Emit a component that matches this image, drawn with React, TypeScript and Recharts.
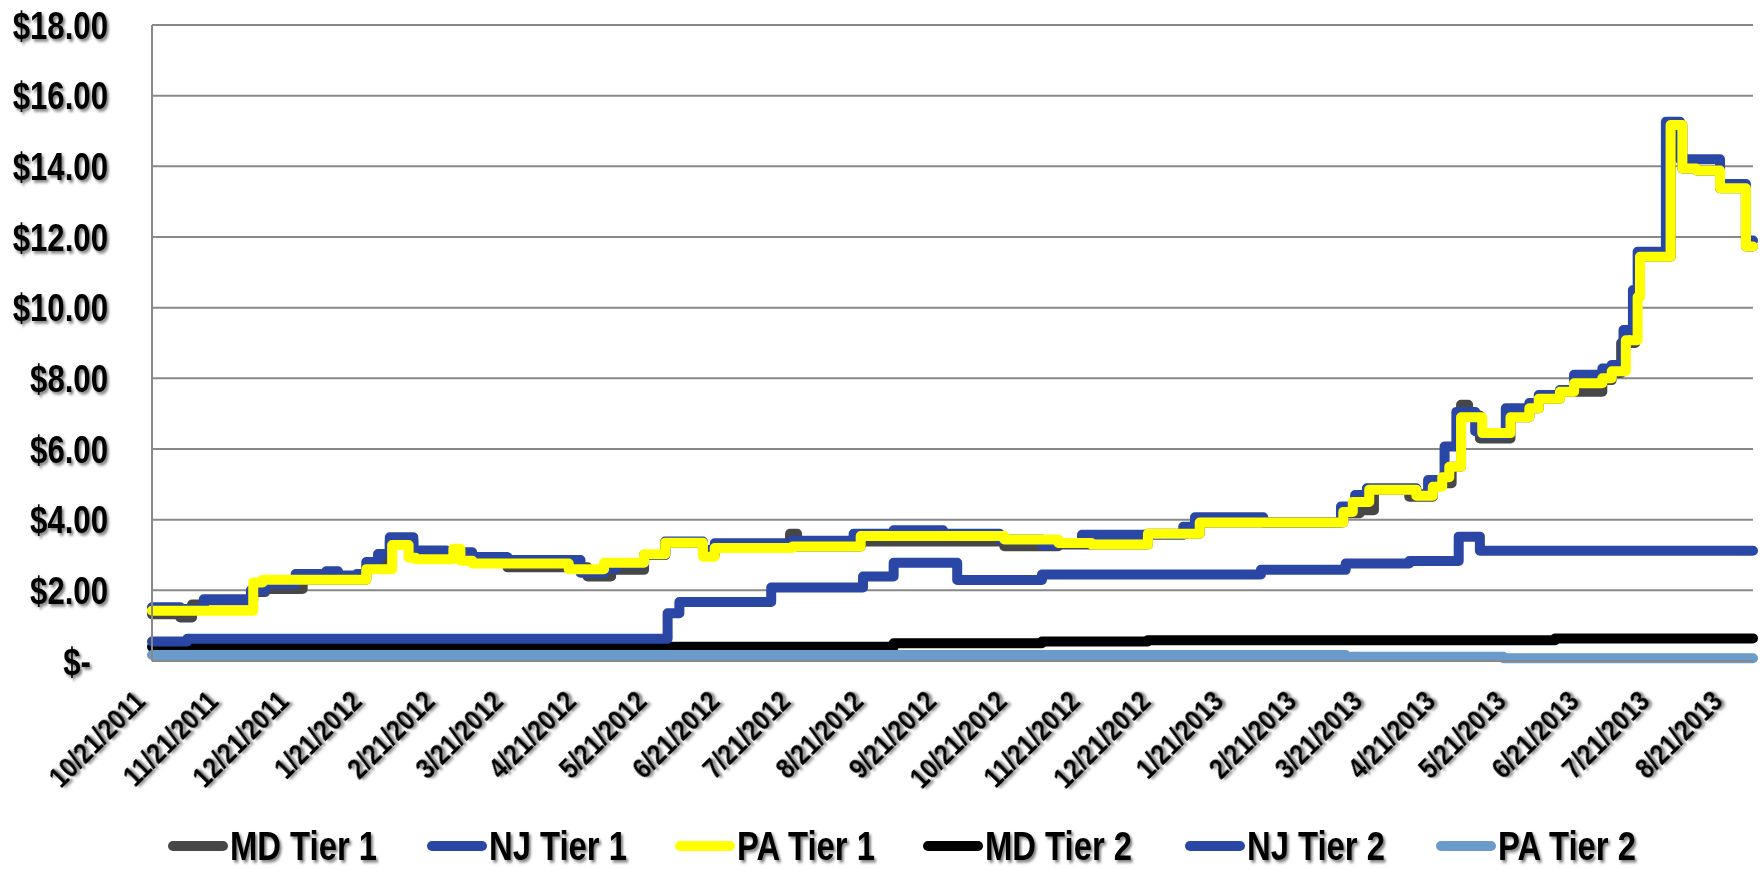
import { LineChart, Line, XAxis, YAxis, CartesianGrid, Legend } from "recharts";

// x axis labels (one per month)
const tickLabels = [
  "10/21/2011", "11/21/2011", "12/21/2011", "1/21/2012", "2/21/2012", "3/21/2012",
  "4/21/2012", "5/21/2012", "6/21/2012", "7/21/2012", "8/21/2012", "9/21/2012",
  "10/21/2012", "11/21/2012", "12/21/2012", "1/21/2013", "2/21/2013", "3/21/2013",
  "4/21/2013", "5/21/2013", "6/21/2013", "7/21/2013", "8/21/2013",
];
const yTicks = [0, 2, 4, 6, 8, 10, 12, 14, 16, 18];
const firstDate = "10/21/2011";
const lastDate = "8/31/2013";

// price change points: [date, $], each value holds until the next date
const mdTier1: [string, number][] = [
  ["10/21/2011", 1.32], ["11/2/2011", 1.23], ["11/7/2011", 1.6], ["11/12/2011", 1.72],
  ["12/3/2011", 1.95], ["12/8/2011", 2.04], ["12/24/2011", 2.3], ["1/20/2012", 2.62],
  ["1/25/2012", 2.84], ["1/30/2012", 3.4], ["2/9/2012", 3.03], ["3/5/2012", 2.84],
  ["3/20/2012", 2.65], ["4/23/2012", 2.39], ["5/3/2012", 2.58], ["5/17/2012", 3.0],
  ["5/26/2012", 3.35], ["6/11/2012", 3.0], ["6/16/2012", 3.2], ["7/18/2012", 3.6],
  ["7/21/2012", 3.24], ["8/17/2012", 3.38], ["10/17/2012", 3.25], ["11/9/2012", 3.3],
  ["12/17/2012", 3.6], ["1/8/2013", 3.92], ["3/10/2013", 4.18], ["3/17/2013", 4.27],
  ["3/23/2013", 4.85], ["4/7/2013", 4.65], ["4/17/2013", 5.03], ["4/25/2013", 5.5],
  ["4/29/2013", 7.25], ["5/2/2013", 6.95], ["5/7/2013", 6.3], ["5/20/2013", 6.9],
  ["5/28/2013", 7.15], ["6/1/2013", 7.42], ["6/10/2013", 7.62], ["6/28/2013", 7.95],
  ["7/2/2013", 8.15], ["7/6/2013", 9.0], ["7/12/2013", 10.4], ["7/14/2013", 11.44],
  ["7/27/2013", 15.17], ["8/1/2013", 13.94], ["8/7/2013", 13.88], ["8/17/2013", 13.38],
  ["8/28/2013", 11.73], ["8/31/2013", 11.73],
];

const njTier1: [string, number][] = [
  ["10/21/2011", 1.52], ["11/2/2011", 1.47], ["11/12/2011", 1.75], ["12/2/2011", 2.0],
  ["12/8/2011", 2.18], ["12/21/2011", 2.46], ["1/3/2012", 2.54], ["1/8/2012", 2.42],
  ["1/16/2012", 2.46], ["1/20/2012", 2.8], ["1/25/2012", 3.03], ["1/30/2012", 3.5],
  ["2/9/2012", 3.13], ["2/23/2012", 3.08], ["3/5/2012", 2.94], ["3/20/2012", 2.86],
  ["4/20/2012", 2.5], ["4/30/2012", 2.62], ["5/5/2012", 2.75], ["5/17/2012", 3.0],
  ["5/26/2012", 3.38], ["6/11/2012", 3.14], ["6/16/2012", 3.33], ["7/19/2012", 3.4],
  ["8/14/2012", 3.6], ["8/31/2012", 3.7], ["9/21/2012", 3.6], ["10/15/2012", 3.44],
  ["11/2/2012", 3.28], ["11/8/2012", 3.33], ["11/19/2012", 3.57], ["1/1/2013", 3.8],
  ["1/6/2013", 4.07], ["2/4/2013", 3.92], ["3/9/2013", 4.37], ["3/15/2013", 4.7],
  ["3/20/2013", 4.89], ["4/10/2013", 4.72], ["4/15/2013", 5.12], ["4/22/2013", 6.07],
  ["4/27/2013", 7.05], ["5/5/2013", 6.5], ["5/8/2013", 6.4], ["5/18/2013", 7.15],
  ["5/28/2013", 7.3], ["6/1/2013", 7.53], ["6/10/2013", 7.67], ["6/16/2013", 8.1],
  ["6/28/2013", 8.28], ["7/2/2013", 8.38], ["7/7/2013", 9.37], ["7/11/2013", 10.5],
  ["7/13/2013", 11.58], ["7/25/2013", 15.26], ["7/31/2013", 14.2], ["8/17/2013", 13.5],
  ["8/28/2013", 11.9], ["8/31/2013", 11.9],
];

const paTier1: [string, number][] = [
  ["10/21/2011", 1.42], ["12/3/2011", 2.22], ["12/7/2011", 2.3], ["1/20/2012", 2.6],
  ["1/31/2012", 3.28], ["2/7/2012", 2.92], ["2/10/2012", 2.88], ["2/26/2012", 3.18],
  ["2/29/2012", 2.84], ["3/5/2012", 2.76], ["4/15/2012", 2.6], ["4/30/2012", 2.78],
  ["5/17/2012", 3.02], ["5/26/2012", 3.35], ["6/11/2012", 2.95], ["6/16/2012", 3.2],
  ["7/19/2012", 3.24], ["8/17/2012", 3.54], ["10/17/2012", 3.44], ["11/9/2012", 3.34],
  ["11/23/2012", 3.3], ["12/17/2012", 3.6], ["1/8/2013", 3.92], ["3/10/2013", 4.22],
  ["3/14/2013", 4.5], ["3/21/2013", 4.85], ["4/10/2013", 4.68], ["4/17/2013", 4.93],
  ["4/21/2013", 5.2], ["4/24/2013", 5.5], ["4/29/2013", 6.9], ["5/8/2013", 6.45],
  ["5/20/2013", 6.9], ["5/28/2013", 7.15], ["6/1/2013", 7.42], ["6/10/2013", 7.62],
  ["6/16/2013", 7.86], ["6/28/2013", 8.0], ["7/2/2013", 8.2], ["7/8/2013", 9.08],
  ["7/13/2013", 10.3], ["7/14/2013", 11.44], ["7/27/2013", 15.17], ["8/1/2013", 13.94],
  ["8/7/2013", 13.88], ["8/17/2013", 13.38], ["8/28/2013", 11.73], ["8/31/2013", 11.73],
];

const mdTier2: [string, number][] = [
  ["10/21/2011", 0.4], ["8/31/2012", 0.5], ["11/2/2012", 0.55], ["12/17/2012", 0.59],
  ["6/8/2013", 0.64], ["8/31/2013", 0.64],
];

const njTier2: [string, number][] = [
  ["10/21/2011", 0.55], ["11/5/2011", 0.63], ["5/27/2012", 1.35], ["6/1/2012", 1.67],
  ["7/10/2012", 2.08], ["8/18/2012", 2.39], ["8/31/2012", 2.78], ["9/27/2012", 2.29],
  ["11/2/2012", 2.45], ["2/3/2013", 2.58], ["3/11/2013", 2.76], ["4/7/2013", 2.83],
  ["4/28/2013", 3.52], ["5/7/2013", 3.12], ["8/31/2013", 3.12],
];

const paTier2: [string, number][] = [
  ["10/21/2011", 0.17], ["3/11/2013", 0.12], ["5/17/2013", 0.08], ["8/31/2013", 0.08],
];

const FONT = "'Liberation Sans', Arial, Helvetica, sans-serif";

const toDay = (s: string) => {
  const [m, d, y] = s.split("/").map(Number);
  const [m0, d0, y0] = firstDate.split("/").map(Number);
  return Math.round((Date.UTC(y, m - 1, d) - Date.UTC(y0, m0 - 1, d0)) / 86400000);
};

const toRows = (pts: [string, number][]) => pts.map(([d, v]) => ({ t: toDay(d), v }));

const series = [
  { name: "MD Tier 1", color: "#474747", data: toRows(mdTier1) },
  { name: "NJ Tier 1", color: "#2a47a6", data: toRows(njTier1) },
  { name: "PA Tier 1", color: "#ffff00", data: toRows(paTier1) },
  { name: "MD Tier 2", color: "#000000", data: toRows(mdTier2) },
  { name: "NJ Tier 2", color: "#2a47a6", data: toRows(njTier2) },
  { name: "PA Tier 2", color: "#6b9bcb", data: toRows(paTier2) },
];

const xTicks = tickLabels.map(toDay);
const legendX = [168, 427, 675, 923, 1185, 1436];

const YTick = (props: any) => {
  const { y, payload } = props;
  const v = payload.value as number;
  const label = v === 0 ? "$-" : `$${v.toFixed(2)}`;
  const right = v === 0 ? 91 : 108;
  return (
    <g transform={`translate(${right},${y}) scale(0.82,1)`} filter="url(#tshadow)">
      <text x={0} y={0} dy="0.36em" textAnchor="end" fontSize={38} fontWeight="bold" fontFamily={FONT} fill="#000">
        {label}
      </text>
    </g>
  );
};

const XTick = (props: any) => {
  const { x, payload } = props;
  const i = xTicks.indexOf(payload.value);
  return (
    <g transform={`translate(${x - 5},703) rotate(-45) scale(0.82,1)`} filter="url(#tshadow)">
      <text x={0} y={0} textAnchor="end" fontSize={30} fontWeight="bold" fontFamily={FONT} fill="#000">
        {tickLabels[i]}
      </text>
    </g>
  );
};

const LegendContent = () => (
  <svg width={1764} height={72} style={{ display: "block" }}>
    {series.map((s, i) => (
      <g key={s.name} transform={`translate(${legendX[i]},0)`}>
        <line x1={5} x2={55} y1={48} y2={48} stroke={s.color} strokeWidth={10} strokeLinecap="round" />
        <g transform="translate(62,48) scale(0.82,1)" filter="url(#tshadow)">
          <text x={0} y={0} dy="0.36em" fontSize={40} fontWeight="bold" fontFamily={FONT} fill="#000">
            {s.name}
          </text>
        </g>
      </g>
    ))}
  </svg>
);

export default function App() {
  return (
    <div style={{ position: "absolute", left: 0, top: 0, width: 1764, height: 870, background: "#fff" }}>
      <svg width={0} height={0} style={{ position: "absolute" }}>
        <defs>
          <filter id="tshadow" x="-10%" y="-30%" width="130%" height="180%">
            <feDropShadow dx="2.5" dy="2.5" stdDeviation="1.6" floodColor="#000" floodOpacity="0.5" />
          </filter>
        </defs>
      </svg>
      <LineChart width={1764} height={870} margin={{ top: 25, right: 11, left: 0, bottom: 0 }}>
        <CartesianGrid vertical={false} stroke="#888888" strokeWidth={2} />
        <XAxis
          type="number"
          dataKey="t"
          domain={[0, toDay(lastDate)]}
          ticks={xTicks}
          interval={0}
          height={137}
          tickLine={false}
          axisLine={{ stroke: "#888888", strokeWidth: 2 }}
          tick={<XTick />}
        />
        <YAxis
          type="number"
          domain={[0, 18]}
          ticks={yTicks}
          interval={0}
          width={152}
          tickLine={false}
          axisLine={{ stroke: "#888888", strokeWidth: 2 }}
          tick={<YTick />}
        />
        <Legend
          verticalAlign="bottom"
          height={72}
          content={<LegendContent />}
          wrapperStyle={{ left: 0, bottom: 0, width: 1764, height: 72 }}
        />
        {series.map((s) => (
          <Line
            key={s.name}
            name={s.name}
            data={s.data}
            dataKey="v"
            type="stepAfter"
            stroke={s.color}
            strokeWidth={10}
            strokeLinecap="round"
            strokeLinejoin="round"
            dot={false}
            activeDot={false}
            isAnimationActive={false}
          />
        ))}
      </LineChart>
    </div>
  );
}
